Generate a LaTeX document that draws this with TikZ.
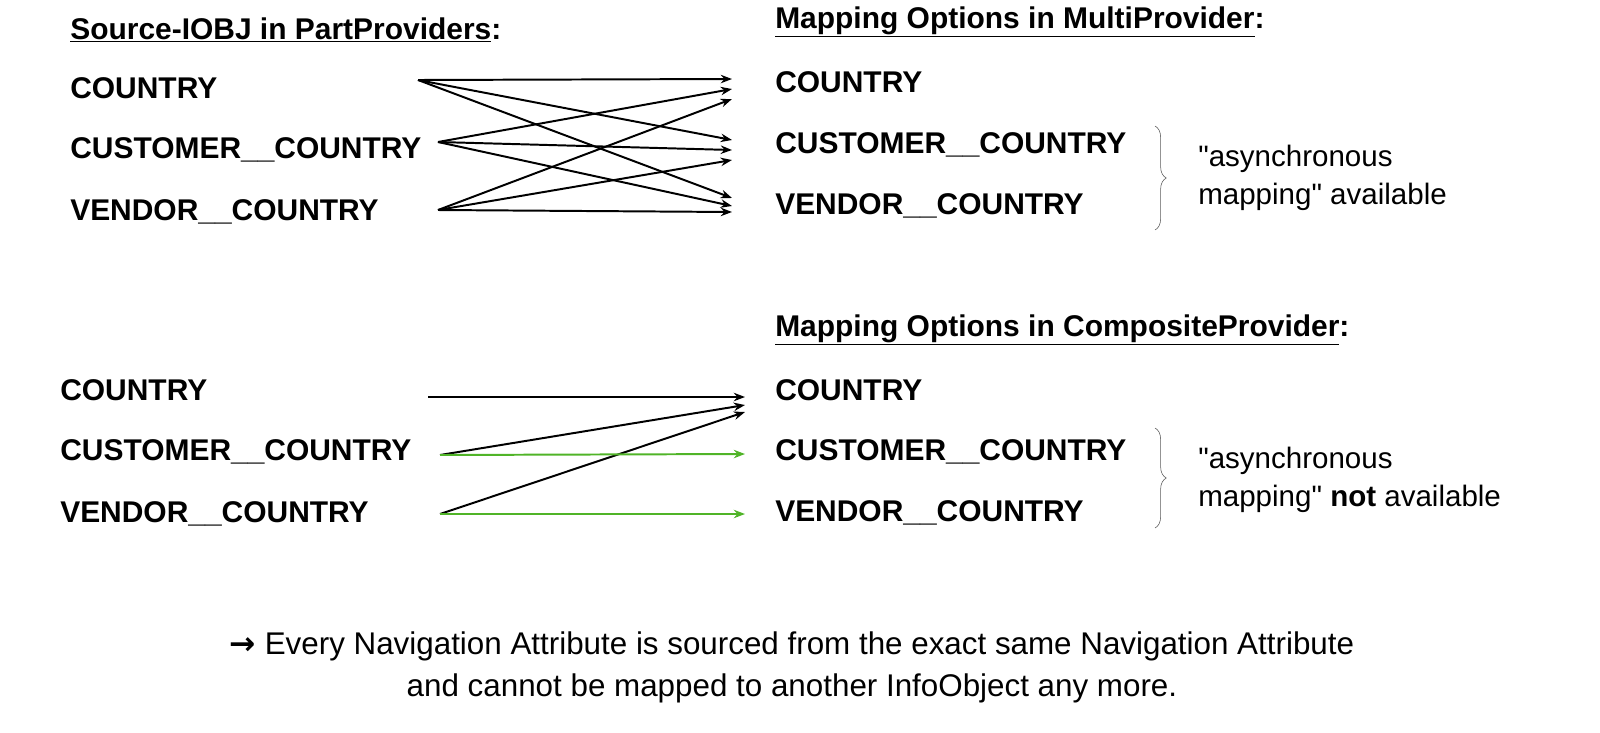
\documentclass[tikz,border=0pt]{standalone}
\usepackage{fontspec}
\setmainfont{Liberation Sans}[Ligatures=TeXOff]
\usetikzlibrary{arrows.meta,decorations.pathreplacing}
\definecolor{mapgreen}{RGB}{80,180,40}
\begin{document}
\begin{tikzpicture}[x=0.025cm, y=-0.025cm,
  iobj/.style={anchor=west, inner sep=0pt, font=\fontsize{21.3}{24}\selectfont\bfseries},
  note/.style={anchor=west, inner sep=0pt, align=left, font=\fontsize{21}{27}\selectfont},
  map/.style={line width=1.4pt, -{Stealth[length=8pt]}},
  brc/.style={gray!70!black, decorate, decoration={brace, amplitude=8pt}}]

    \useasboundingbox (0,0) rectangle (1600,732);

    % upper part: PartProviders to MultiProvider
    \node[iobj] (srchead) at (70,30) {\underline{Source-IOBJ in PartProviders}:};
    \node[iobj] (sc) at (70,88) {COUNTRY};
    \node[iobj] (scu) at (70,150) {CUSTOMER\_\_COUNTRY};
    \node[iobj] (sv) at (70,212) {VENDOR\_\_COUNTRY};
    \node[iobj] (mphead) at (775,22) {\underline{Mapping Options in MultiProvider}:};
    \node[iobj] (mc) at (775,82) {COUNTRY};
    \node[iobj] (mcu) at (775,145) {CUSTOMER\_\_COUNTRY};
    \node[iobj] (mv) at (775,206) {VENDOR\_\_COUNTRY};

    \coordinate (sc-o) at (418,80);
    \coordinate (scu-o) at (438,142);
    \coordinate (sv-o) at (438,210);
    \foreach \t/\y in {1/79,2/89,3/99} \coordinate (mc-\t) at (732,\y);
    \foreach \t/\y in {1/140,2/150,3/160} \coordinate (mcu-\t) at (732,\y);
    \foreach \t/\y in {1/198,2/206,3/212} \coordinate (mv-\t) at (732,\y);

    \draw[map] (sc-o) -- (mc-1);
    \draw[map] (sc-o) -- (mcu-1);
    \draw[map] (sc-o) -- (mv-1);
    \draw[map] (scu-o) -- (mc-2);
    \draw[map] (scu-o) -- (mcu-2);
    \draw[map] (scu-o) -- (mv-2);
    \draw[map] (sv-o) -- (mc-3);
    \draw[map] (sv-o) -- (mcu-3);
    \draw[map] (sv-o) -- (mv-3);

    \draw[brc] (1155,126) -- (1155,230);
    \node[note] (async1) at (1198,178) {"asynchronous\\mapping" available};

    % lower part: CompositeProvider
    \node[iobj] (cc) at (60,390) {COUNTRY};
    \node[iobj] (ccu) at (60,452) {CUSTOMER\_\_COUNTRY};
    \node[iobj] (cv) at (60,514) {VENDOR\_\_COUNTRY};
    \node[iobj] (cphead) at (775,330) {\underline{Mapping Options in CompositeProvider}:};
    \node[iobj] (tc) at (775,390) {COUNTRY};
    \node[iobj] (tcu) at (775,452) {CUSTOMER\_\_COUNTRY};
    \node[iobj] (tv) at (775,513) {VENDOR\_\_COUNTRY};

    \coordinate (cc-o) at (428,397);
    \coordinate (ccu-o) at (440,455);
    \coordinate (cv-o) at (440,514);
    \coordinate (tc-1) at (745,397);
    \coordinate (tc-2) at (745,405);
    \coordinate (tc-3) at (745,412);
    \coordinate (tcu-1) at (745,454);
    \coordinate (tv-1) at (745,514);

    \draw[map] (cc-o) -- (tc-1);
    \draw[map] (ccu-o) -- (tc-2);
    \draw[map] (cv-o) -- (tc-3);
    \draw[map, mapgreen] (ccu-o) -- (tcu-1);
    \draw[map, mapgreen] (cv-o) -- (tv-1);

    \draw[brc] (1155,428) -- (1155,528);
    \node[note] (async2) at (1198,480) {"asynchronous\\mapping" \textbf{not} available};

    % conclusion
    \node[inner sep=0pt, align=center, font=\fontsize{22.3}{30}\selectfont] (concl) at (792,667)
      {{\fontspec{DejaVu Sans}\bfseries →} Every Navigation Attribute is sourced from the exact same Navigation Attribute\\
       and cannot be mapped to another InfoObject any more.};

\end{tikzpicture}
\end{document}
